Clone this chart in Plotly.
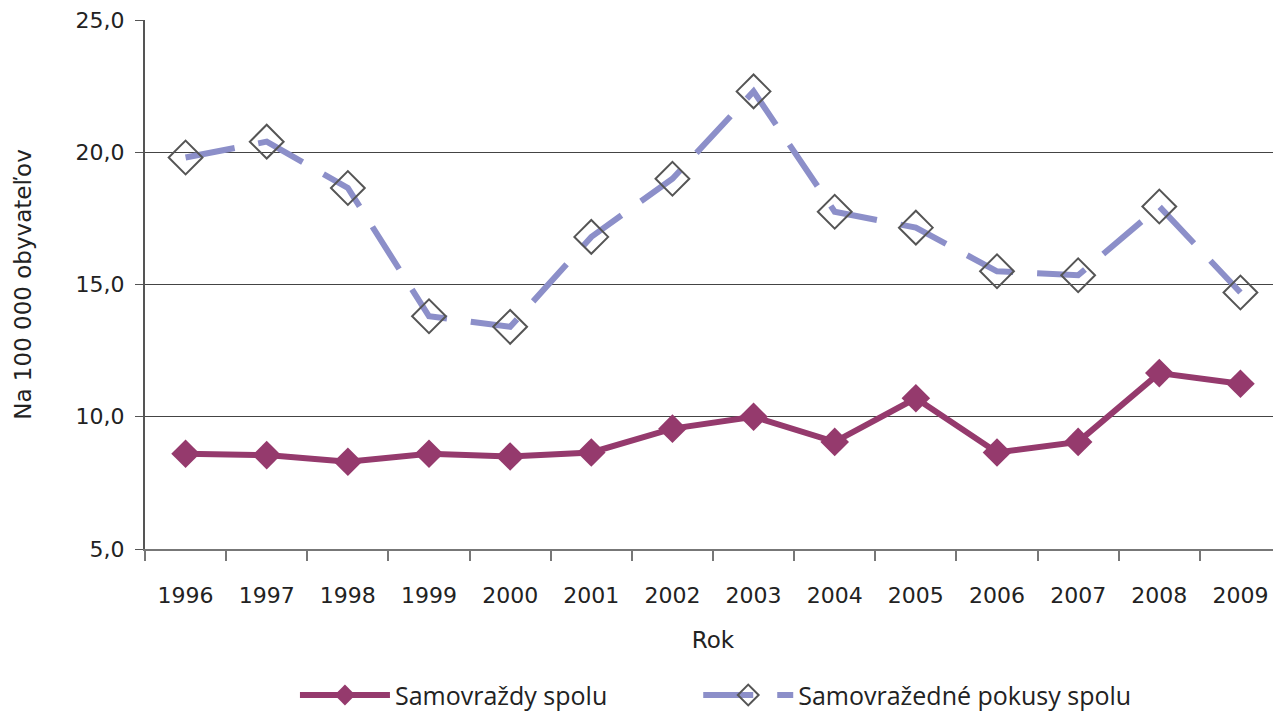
import plotly.graph_objects as go

years = ['1996', '1997', '1998', '1999', '2000', '2001', '2002',
         '2003', '2004', '2005', '2006', '2007', '2008', '2009']
samovrazdy = [8.6, 8.55, 8.3, 8.6, 8.5, 8.65, 9.55, 10.0, 9.05, 10.7, 8.65, 9.05, 11.65, 11.25]
pokusy = [19.8, 20.4, 18.65, 13.8, 13.4, 16.8, 19.0, 22.3, 17.75, 17.15, 15.5, 15.35, 17.95, 14.7]

axis_font = 'DejaVu Sans'
legend_font = 'Open Sans'

fig = go.Figure()
fig.add_trace(go.Scatter(
    x=years, y=samovrazdy,
    mode='lines+markers',
    name='Samovraždy spolu',
    line=dict(color='#953a6d', width=6),
    marker=dict(symbol='diamond', size=22, color='#953a6d'),
    legend='legend',
))
fig.add_trace(go.Scatter(
    x=years, y=pokusy,
    mode='lines+markers',
    name='Samovražedné pokusy spolu',
    line=dict(color='#8c8fc9', width=6, dash='50px,24px'),
    marker=dict(symbol='diamond-open', size=26, color='#555555',
                line=dict(width=2, color='#555555')),
    legend='legend2',
))

leg = dict(orientation='h', y=-0.233, yanchor='top', xanchor='left',
           font=dict(size=25, family=legend_font), itemwidth=90)

# the page body has an 8px margin, so the figure is shrunk by that much
fig.update_layout(
    width=1273, height=705,
    margin=dict(l=137, r=0, t=12, b=164, autoexpand=False),
    plot_bgcolor='white',
    paper_bgcolor='white',
    separators=', ',
    font=dict(family=axis_font, size=22, color='#222222'),
    showlegend=True,
    legend=dict(leg, x=0.132),
    legend2=dict(leg, x=0.487),
    xaxis=dict(
        type='category',
        range=[-0.5, 13.5],
        tickson='boundaries',
        ticks='outside', ticklen=10, tickwidth=2, tickcolor='#777777',
        ticklabelstandoff=26,
        showline=True, linecolor='#777777', linewidth=2,
        showgrid=False,
        automargin=False,
        tickfont=dict(size=22),
        title=dict(text='Rok', font=dict(size=23), standoff=24),
    ),
    yaxis=dict(
        range=[5, 25],
        dtick=5,
        tickformat='.1f',
        ticks='outside', ticklen=8, tickwidth=1, tickcolor='#555555',
        ticklabelstandoff=6,
        ticklabeloverflow='allow',
        showline=True, linecolor='#555555', linewidth=2,
        showgrid=True, gridcolor='#444444', gridwidth=1,
        zeroline=False,
        automargin=False,
        tickfont=dict(size=22),
        title=dict(text='Na 100 000 obyvateľov', font=dict(size=23), standoff=38),
    ),
)

fig.write_html("out.html")
